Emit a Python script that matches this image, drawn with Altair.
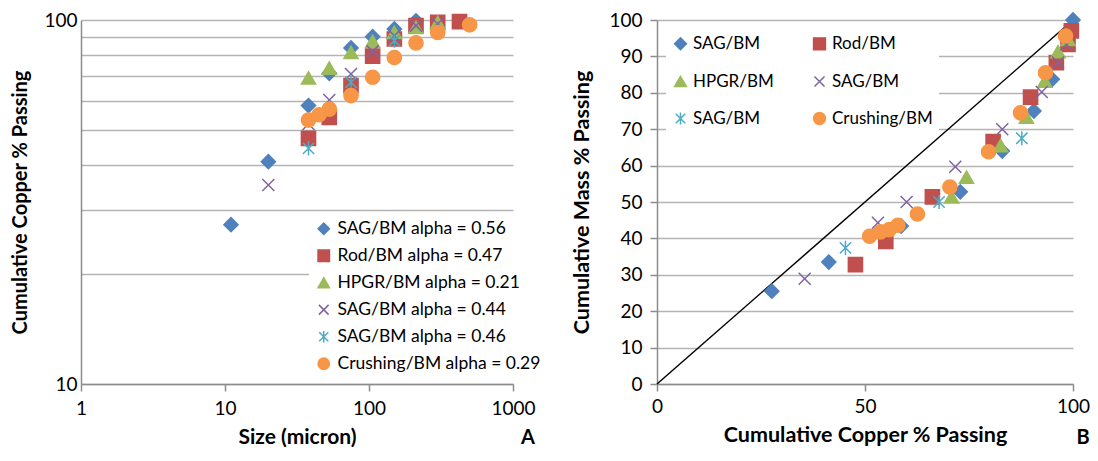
import altair as alt
import pandas as pd

FONT = "Lato"

keys = ["s1", "s2", "s3", "s4", "s5", "s6"]
left_labels = ["SAG/BM alpha = 0.56", "Rod/BM alpha = 0.47", "HPGR/BM alpha = 0.21",
               "SAG/BM alpha = 0.44", "SAG/BM alpha = 0.46", "Crushing/BM alpha = 0.29"]
right_labels = ["SAG/BM", "Rod/BM", "HPGR/BM", "SAG/BM", "SAG/BM", "Crushing/BM"]
colors = ["#4F81BD", "#C0504D", "#9BBB59", "#8064A2", "#4BACC6", "#F79646"]
fills = ["#4F81BD", "#C0504D", "#9BBB59", "transparent", "transparent", "#F79646"]
X_PATH = "M-0.85,-0.85L0.85,0.85M-0.85,0.85L0.85,-0.85"
AST_PATH = "M-0.8,-0.8L0.8,0.8M-0.8,0.8L0.8,-0.8M0,-1L0,1"
shapes = ["diamond", "square", "triangle-up", X_PATH, AST_PATH, "circle"]
# legend order of panel B (two columns, filled column by column)
b_legend_order = [0, 2, 4, 1, 3, 5]

# Panel A: size (micron) vs cumulative copper % passing
a_size_1 = [11, 20, 38, 53, 75, 106, 150, 212]
a_cu_1 = [27.4, 40.8, 58.2, 71.4, 83.8, 90.0, 94.5, 99.5]
a_size_2 = [38, 53, 75, 106, 150, 212, 300, 425]
a_cu_2 = [47.3, 54.0, 66.0, 79.6, 88.7, 96.5, 98.5, 99.0]
a_size_3 = [38, 53, 75, 106, 150, 212, 300]
a_cu_3 = [69.3, 73.8, 81.5, 87.4, 92.5, 95.4, 98.5]
a_size_4 = [20, 38, 53, 75, 106, 150, 212, 300]
a_cu_4 = [35.2, 51.8, 60.3, 71.1, 82.0, 90.5, 96.5, 97.6]
a_size_5 = [38, 75, 150]
a_cu_5 = [44.4, 67.4, 87.7]
a_size_6 = [38, 45, 53, 75, 106, 150, 212, 300, 500]
a_cu_6 = [53.1, 54.9, 56.9, 62.0, 69.6, 78.9, 86.5, 92.4, 97.0]

# Panel B: cumulative copper % passing vs cumulative mass % passing
b_cu_1 = [27.6, 41.3, 58.7, 72.9, 83.0, 90.6, 95.0, 100.0]
b_mass_1 = [25.5, 33.5, 43.4, 52.8, 64.0, 75.0, 83.7, 100.0]
b_cu_2 = [47.7, 55.0, 66.2, 80.8, 89.8, 96.0, 98.8, 99.6]
b_mass_2 = [32.8, 39.2, 51.4, 66.6, 78.8, 88.3, 93.3, 97.0]
b_cu_3 = [70.8, 74.4, 82.6, 88.8, 93.2, 96.4, 98.8]
b_mass_3 = [51.4, 56.8, 65.5, 73.3, 83.2, 91.3, 94.7]
b_cu_4 = [35.5, 53.1, 60.0, 71.7, 83.0, 92.5, 96.4, 98.4]
b_mass_4 = [28.9, 44.3, 50.0, 59.7, 70.0, 80.2, 88.3, 93.3]
b_cu_5 = [45.3, 67.8, 87.7]
b_mass_5 = [37.4, 50.0, 67.5]
b_cu_6 = [51.1, 53.7, 55.8, 57.9, 62.6, 70.4, 79.7, 87.4, 93.4, 98.2]
b_mass_6 = [40.6, 41.8, 42.4, 43.6, 46.7, 54.1, 63.8, 74.5, 85.5, 95.6]

diag = [0, 100]

a_sizes = [a_size_1, a_size_2, a_size_3, a_size_4, a_size_5, a_size_6]
a_cus = [a_cu_1, a_cu_2, a_cu_3, a_cu_4, a_cu_5, a_cu_6]
b_cus = [b_cu_1, b_cu_2, b_cu_3, b_cu_4, b_cu_5, b_cu_6]
b_masses = [b_mass_1, b_mass_2, b_mass_3, b_mass_4, b_mass_5, b_mass_6]

rows_a = []
for k, xs, ys in zip(keys, a_sizes, a_cus):
    for x, y in zip(xs, ys):
        rows_a.append({"key": k, "size": x, "cu": y})
df_a = pd.DataFrame(rows_a)

rows_b = []
for k, xs, ys in zip(keys, b_cus, b_masses):
    for x, y in zip(xs, ys):
        rows_b.append({"key": k, "cu": x, "mass": y})
df_b = pd.DataFrame(rows_b)
df_diag = pd.DataFrame({"cu": diag, "mass": diag})


def label_expr(labels):
    arr_l = "[" + ",".join("'" + l + "'" for l in labels) + "]"
    arr_k = "[" + ",".join("'" + k + "'" for k in keys) + "]"
    return arr_l + "[indexof(" + arr_k + ", datum.value)]"


AX = dict(labelFont=FONT, labelFontSize=19, labelColor="#000000",
          titleFont=FONT, titleFontWeight="bold", titleColor="#000000",
          domainColor="#8c8c8c", domainWidth=1.5, tickColor="#8c8c8c", tickWidth=1.5,
          gridColor="#b4b4b4", gridWidth=1.5, labelOverlap=False, labelFlush=False)

W_A, H = 432, 364
W_B = 416


def legend_a():
    return alt.Legend(title=None, orient="none", legendX=228, legendY=194,
                      labelExpr=label_expr(left_labels), labelFont=FONT, labelFontSize=17.5,
                      labelColor="#000000", symbolSize=130, symbolStrokeWidth=1.5,
                      rowPadding=8, padding=6, fillColor="white", labelOffset=5,
                      labelLimit=0)


def legend_b():
    return alt.Legend(title=None, orient="none", legendX=9, legendY=9, columns=2,
                      labelExpr=label_expr(right_labels), labelFont=FONT, labelFontSize=17,
                      labelColor="#000000", symbolSize=140, symbolStrokeWidth=1.5,
                      rowPadding=19, columnPadding=36, padding=6, fillColor="white",
                      labelOffset=4, labelLimit=0)


def enc_style(legend_fn, order):
    dom = [keys[i] for i in order]
    return dict(
        shape=alt.Shape("key:N", scale=alt.Scale(domain=dom, range=[shapes[i] for i in order]),
                        legend=legend_fn()),
        fill=alt.Fill("key:N", scale=alt.Scale(domain=dom, range=[fills[i] for i in order]),
                      legend=legend_fn()),
        stroke=alt.Stroke("key:N", scale=alt.Scale(domain=dom, range=[colors[i] for i in order]),
                          legend=legend_fn()),
    )


pts_a = alt.Chart(df_a).mark_point(size=200, strokeWidth=1.5, opacity=1).encode(
    x=alt.X("size:Q", scale=alt.Scale(type="log", domain=[1, 1000]),
            axis=alt.Axis(values=[1, 10, 100, 1000], grid=False, format="d", title="Size (micron)",
                          tickSize=7, labelPadding=8, titlePadding=8, titleFontSize=21, **AX)),
    y=alt.Y("cu:Q", scale=alt.Scale(type="log", domain=[10, 100]),
            axis=alt.Axis(values=list(range(10, 101, 10)), format="d",
                          labelExpr="datum.value == 10 || datum.value == 100 ? datum.label : ''",
                          tickSize=0, labelPadding=4, titlePadding=13, titleFontSize=20,
                          title="Cumulative Copper % Passing", **AX)),
    **enc_style(legend_a, list(range(6))),
)
txt_a = alt.Chart(pd.DataFrame({"t": ["A"]})).mark_text(
    font=FONT, fontSize=20, fontWeight="bold", color="#000000"
).encode(text="t:N", x=alt.value(W_A + 15), y=alt.value(H + 54))

panel_a = alt.layer(pts_a, txt_a).properties(width=W_A, height=H)

x_b = alt.X("cu:Q", scale=alt.Scale(domain=[0, 100]),
            axis=alt.Axis(values=[0, 50, 100], grid=False, title="Cumulative Copper % Passing",
                          tickSize=7, labelPadding=6, titlePadding=8, titleFontSize=21.5, **AX))
y_b = alt.Y("mass:Q", scale=alt.Scale(domain=[0, 100]),
            axis=alt.Axis(values=list(range(0, 101, 10)), title="Cumulative Mass % Passing",
                          tickSize=7, labelPadding=8, titlePadding=15, titleFontSize=21.5, **AX))

line_b = alt.Chart(df_diag).mark_line(color="#000000", strokeWidth=1.5).encode(x=x_b, y=y_b)
pts_b = alt.Chart(df_b).mark_point(size=200, strokeWidth=1.5, opacity=1).encode(
    x=x_b, y=y_b, **enc_style(legend_b, b_legend_order),
)
txt_b = alt.Chart(pd.DataFrame({"t": ["B"]})).mark_text(
    font=FONT, fontSize=20, fontWeight="bold", color="#000000"
).encode(text="t:N", x=alt.value(W_B + 10), y=alt.value(H + 54))

panel_b = alt.layer(line_b, pts_b, txt_b).properties(width=W_B, height=H)

chart = alt.hconcat(panel_a, panel_b, spacing=144, bounds="flush").resolve_scale(
    shape="independent", fill="independent", stroke="independent"
).properties(
    padding={"left": 2, "top": 1, "right": 0, "bottom": 0}
).configure_view(strokeWidth=0)

chart.save("out.html", embed_options={"renderer": "svg", "actions": False})
